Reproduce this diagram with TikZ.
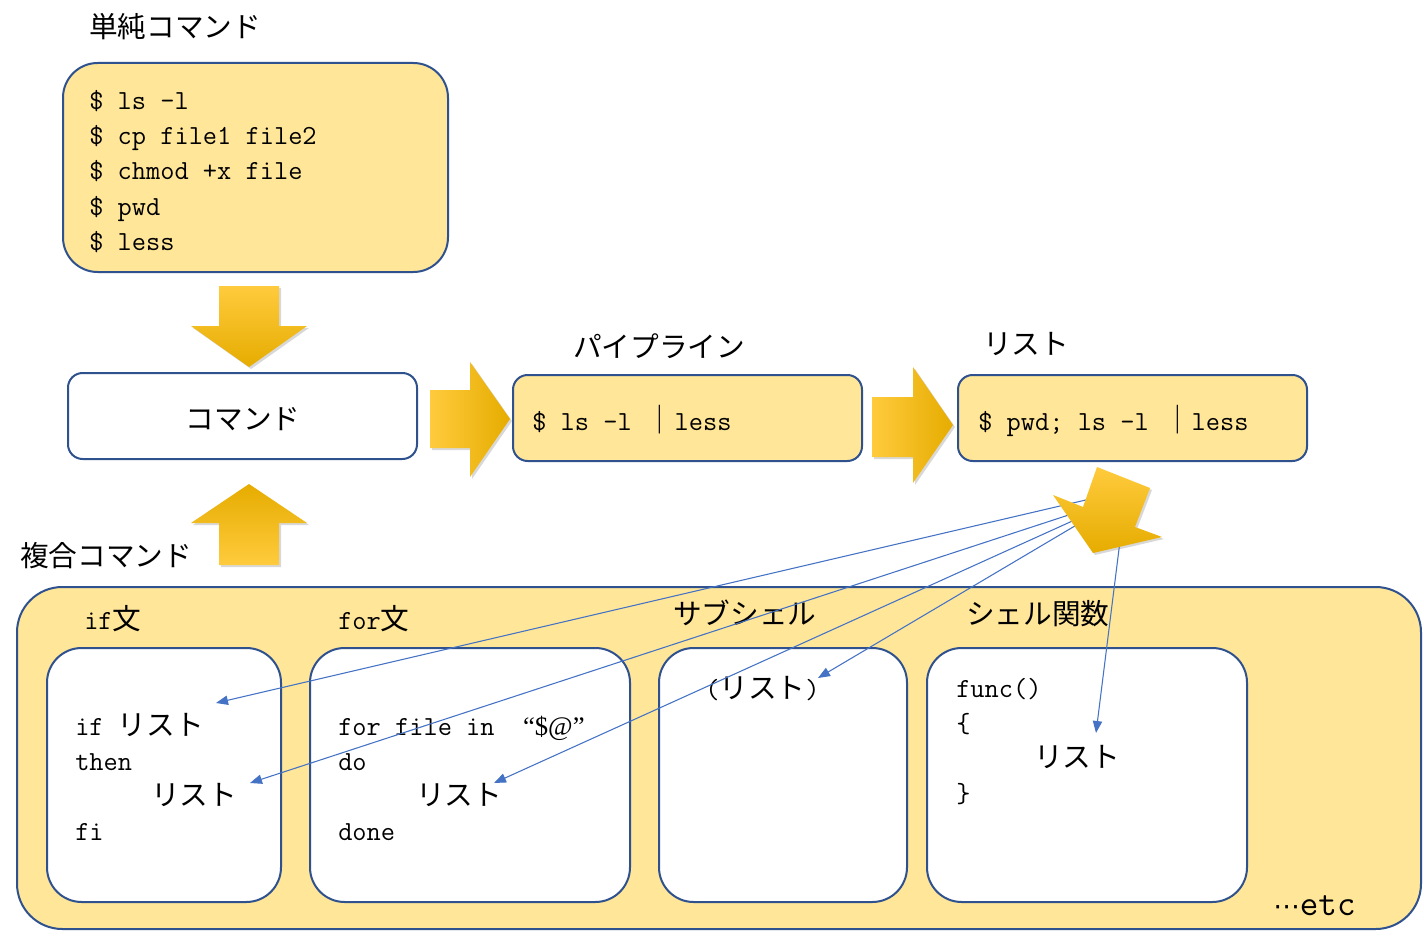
\documentclass[tikz,border=0pt]{standalone}
\usepackage{fontspec}
\newfontfamily\jp{Noto Sans CJK JP}
\newfontfamily\ser{Liberation Serif}
\newfontfamily\dv{DejaVu Sans}
\usetikzlibrary{arrows.meta,shadows,fit}
\definecolor{gold}{HTML}{FFE699}
\definecolor{edgeblue}{HTML}{2F528F}
\definecolor{connblue}{HTML}{4472C4}
\definecolor{aL}{HTML}{FFCB3D}
\definecolor{aM}{HTML}{FFC000}
\definecolor{aD}{HTML}{E6AC00}
\newcommand\J[1]{{\jp\fontsize{21.5pt}{26pt}\selectfont #1}}
\begin{document}
\begin{tikzpicture}[x=0.75pt,y=-0.75pt,
 txt/.style={anchor=base west, inner sep=0pt, font=\fontsize{20.7pt}{26pt}\ttfamily},
 goldbox/.style={draw=edgeblue, fill=gold, line width=1.5pt, inner sep=0pt},
 whitebox/.style={draw=edgeblue, fill=white, line width=1.5pt, inner sep=0pt},
 conn/.style={draw=connblue, line width=0.8pt, -{Triangle[length=9pt,width=7pt]}},
 bigarrow/.style={draw=none, drop shadow={shadow xshift=1.5pt,shadow yshift=-1.5pt,opacity=0.3}},
]
\useasboundingbox[fill=white] (0,0) rectangle (1424,945);

% titles
\node[txt] (tsimple) at (89,38) {\J{単純コマンド}};
\node[txt] (tpipe) at (573,357) {\J{パイプライン}};
\node[txt] (tlist) at (983,354) {\J{リスト}};
\node[txt] (tcomp) at (20,566) {\J{複合コマンド}};

% simple commands box
\node[goldbox, rounded corners=26pt, fit={(63,63)(448,272)}] (simple) {};
\node[txt] (l1) at (89,110) {\$ ls -l};
\node[txt] (l2) at (89,145) {\$ cp file1 file2};
\node[txt] (l3) at (89,180) {\$ chmod +x file};
\node[txt] (l4) at (89,215) {\$ pwd};
\node[txt] (l5) at (89,250) {\$ less};

% command box
\node[whitebox, rounded corners=11pt, fit={(68,373)(417,459)}] (cmd) {};
\node[txt, anchor=base] (cmdt) at (243,429) {\J{コマンド}};

% pipeline and list boxes
\node[goldbox, rounded corners=11pt, fit={(513,375)(862,461)}] (pipe) {};
\node[txt] (pipet) at (532,430) {\$ ls -l \J{｜}less};
\node[goldbox, rounded corners=11pt, fit={(958,375)(1307,461)}] (list) {};
\node[txt] (listt) at (978,430) {\$ pwd; ls -l \J{｜}less};

% big arrows
\path[bigarrow, top color=aL, middle color=aM, bottom color=aD]
  (219,286) -- (279,286) -- (279,326) -- (307,326) -- (249,367) -- (191,326) -- (219,326) -- cycle;
\path[bigarrow, top color=aD, middle color=aM, bottom color=aL]
  (249,484) -- (307,523) -- (279,523) -- (279,565) -- (219,565) -- (219,523) -- (191,523) -- cycle;
\path[bigarrow, left color=aL, middle color=aM, right color=aD]
  (430,390) -- (470,390) -- (470,362) -- (510,419) -- (470,477) -- (470,448) -- (430,448) -- cycle;
\path[bigarrow, left color=aL, middle color=aM, right color=aD]
  (872,397) -- (913,397) -- (913,367) -- (953,425) -- (913,483) -- (913,457) -- (872,457) -- cycle;

% compound container
\node[goldbox, rounded corners=34pt, fit={(17,587)(1421,929)}] (comp) {};
\node[txt] (tif) at (84,629) {if\J{文}};
\node[txt] (tfor) at (338,629) {for\J{文}};
\node[txt] (tsub) at (673,624) {\J{サブシェル}};
\node[txt] (tfunc) at (966,624) {\J{シェル関数}};

\node[whitebox, rounded corners=26pt, fit={(47,648)(281,902)}] (ifbox) {};
\node[whitebox, rounded corners=26pt, fit={(310,648)(630,902)}] (forbox) {};
\node[whitebox, rounded corners=26pt, fit={(659,648)(907,902)}] (subbox) {};
\node[whitebox, rounded corners=26pt, fit={(927,648)(1247,902)}] (funcbox) {};

\node[txt] (if1) at (75,735) {if \J{リスト}};
\node[txt] (if2) at (75,770) {then};
\node[txt] (if3) at (151,805) {\J{リスト}};
\node[txt] (if4) at (75,840) {fi};

\node[txt] (for1) at (338,735) {for file in~~{\ser\fontsize{20pt}{24pt}\selectfont “\$@”}};
\node[txt] (for2) at (338,770) {do};
\node[txt] (for3) at (416,805) {\J{リスト}};
\node[txt] (for4) at (338,840) {done};

\node[txt] (sub1) at (705,698) {(\J{リスト})};

\node[txt] (fn1) at (956,697) {func()};
\node[txt] (fn2) at (956,732) {\{};
\node[txt] (fn3) at (1034,767) {\J{リスト}};
\node[txt] (fn4) at (956,802) {\}};

\node[txt] (etc) at (1273,915) {{\dv\fontsize{20pt}{24pt}\selectfont ⋯}{\fontsize{27pt}{30pt}\selectfont etc}};

% connectors
\coordinate (s1) at (1090,499);
\coordinate (s2) at (1090,508);
\coordinate (s3) at (1090,513);
\coordinate (s4) at (1090,517);
\coordinate (s5) at (1122,525);
\coordinate (e1) at (216,703);
\coordinate (e2) at (250,783);
\coordinate (e3) at (494,783);
\coordinate (e4) at (818,678);
\coordinate (e5) at (1096,733);
\draw[conn] (s1) -- (e1);
\draw[conn] (s2) -- (e2);
\draw[conn] (s3) -- (e3);
\draw[conn] (s4) -- (e4);
\draw[conn] (s5) -- (e5);

% diagonal arrow
\path[bigarrow, shading angle=-21, top color=aL, middle color=aM, bottom color=aD]
  (1097,467) -- (1150,488) -- (1135,527) -- (1162,537) -- (1093,553) -- (1053,495) -- (1083,507) -- cycle;
\end{tikzpicture}
\end{document}
